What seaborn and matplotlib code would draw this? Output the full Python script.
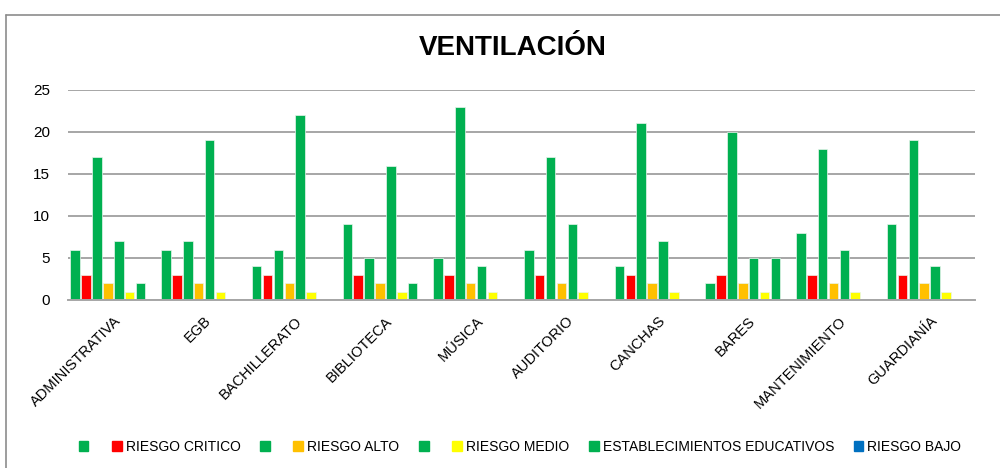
import matplotlib
matplotlib.use("Agg")
import matplotlib.pyplot as plt
import matplotlib.patches as mpatches
import matplotlib.lines as mlines
import pandas as pd
import seaborn as sns

# --- data ---
areas = ["ADMINISTRATIVA", "EGB", "BACHILLERATO", "BIBLIOTECA", "MÚSICA",
         "AUDITORIO", "CANCHAS", "BARES", "MANTENIMIENTO", "GUARDIANÍA"]

serie_1 = [6, 6, 4, 9, 5, 6, 4, 2, 8, 9]
riesgo_critico = [3, 3, 3, 3, 3, 3, 3, 3, 3, 3]
serie_2 = [17, 7, 6, 5, 23, 17, 21, 20, 18, 19]
riesgo_alto = [2, 2, 2, 2, 2, 2, 2, 2, 2, 2]
serie_3 = [7, 19, 22, 16, 4, 9, 7, 5, 6, 4]
riesgo_medio = [1, 1, 1, 1, 1, 1, 1, 1, 1, 1]
establecimientos = [2, 0, 0, 2, 0, 0, 0, 5, 0, 0]
riesgo_bajo = [0, 0, 0, 0, 0, 0, 0, 0, 0, 0]

series_ids = ["s1", "s2", "s3", "s4", "s5", "s6", "s7", "s8"]
series_labels = ["", "RIESGO CRITICO", "", "RIESGO ALTO", "",
                 "RIESGO MEDIO", "ESTABLECIMIENTOS EDUCATIVOS", "RIESGO BAJO"]
series_values = [serie_1, riesgo_critico, serie_2, riesgo_alto, serie_3,
                 riesgo_medio, establecimientos, riesgo_bajo]
series_colors = ["#00B050", "#FF0000", "#00B050", "#FFC000", "#00B050",
                 "#FFFF00", "#00B050", "#0070C0"]


def build_frame():
    rows = []
    for sid, vals in zip(series_ids, series_values):
        for area, v in zip(areas, vals):
            rows.append({"area": area, "serie": sid, "valor": v})
    return pd.DataFrame(rows)


def main():
    sns.set_theme(style="white")
    plt.rcParams["font.family"] = ["Liberation Sans", "DejaVu Sans"]

    df = build_frame()
    fig = plt.figure(figsize=(10, 4.68), dpi=100)
    ax = fig.add_axes([0.068, 0.359, 0.907, 0.449])

    palette = dict(zip(series_ids, series_colors))
    sns.barplot(data=df, x="area", y="valor", hue="serie", order=areas,
                hue_order=series_ids, palette=palette, width=0.96, gap=0.12,
                saturation=1, edgecolor="#e8f5ec", linewidth=0.5,
                legend=False, ax=ax)

    ax.set_ylim(0, 25)
    ax.set_xlim(-0.5, len(areas) - 0.5)
    ax.set_yticks([0, 5, 10, 15, 20, 25])
    ax.yaxis.grid(True, color="#a6a6a6", linewidth=1.4)
    ax.set_axisbelow(True)
    for side in ["top", "right", "left"]:
        ax.spines[side].set_visible(False)
    ax.spines["bottom"].set_color("#a6a6a6")
    ax.spines["bottom"].set_linewidth(1.4)
    ax.set_xlabel("")
    ax.set_ylabel("")
    ax.tick_params(axis="y", length=0, pad=13, labelsize=11, colors="black")
    ax.tick_params(axis="x", length=0, pad=10, labelsize=10.5, colors="black")
    plt.setp(ax.get_xticklabels(), rotation=45, ha="right", rotation_mode="anchor")

    fig.text(0.513, 0.898, "VENTILACIÓN", ha="center", va="center",
             fontsize=20, fontweight="bold", color="black")

    handles = [mpatches.Patch(color=c) for c in series_colors]
    fig.legend(handles, series_labels, loc="center", bbox_to_anchor=(0.52, 0.045),
               ncol=8, frameon=False, fontsize=10, handlelength=0.7,
               handleheight=0.7, handletextpad=0.3, columnspacing=1.4,
               labelcolor="black")

    # spreadsheet chart frame: top and left edges
    frame = "#8c8c8c"
    fig.lines.append(mlines.Line2D([0.006, 1.0], [0.968, 0.968], transform=fig.transFigure,
                                   color=frame, linewidth=1.2))
    fig.lines.append(mlines.Line2D([0.006, 0.006], [0.0, 0.968], transform=fig.transFigure,
                                   color=frame, linewidth=1.2))

    fig.savefig("out.png", dpi=100, facecolor="white")
    plt.close(fig)


if __name__ == "__main__":
    main()
